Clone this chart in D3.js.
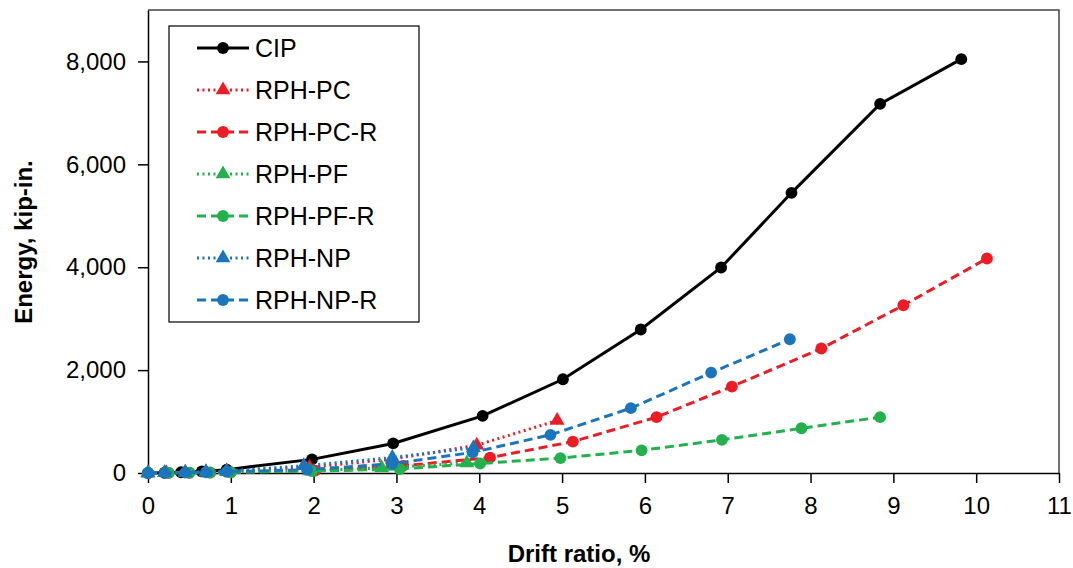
<!DOCTYPE html>
<meta charset="utf-8">
<style>
body { margin: 0; background: #fff; }
text { font-family: "Liberation Sans", Arial, sans-serif; }
.axis text { font-size: 24px; fill: #000; }
.axis path, .axis line { stroke: #000; stroke-width: 1.5px; }
.title { font-size: 24px; font-weight: bold; }
.legend text { font-size: 25px; }
</style>
<svg width="1073" height="568"></svg>
<script src="https://d3js.org/d3.v7.min.js"></script>
<script>
// drift ratio (%) , energy (kip-in.)
var cip      = [[0,0],[0.2,5],[0.4,15],[0.65,30],[0.95,65],[1.98,265],[2.96,575],[4.04,1110],[5.01,1822],[5.95,2790],[6.92,3995],[7.77,5446],[8.84,7175],[9.82,8045]];
var rphPC    = [[0,0],[0.22,5],[0.45,10],[0.7,20],[0.95,40],[1.95,110],[2.95,270],[3.97,540],[4.94,1020]];
var rphPCR   = [[0,0],[0.25,2],[0.5,5],[0.75,10],[1.0,15],[2.02,45],[3.08,140],[4.13,300],[5.13,610],[6.14,1085],[7.05,1680],[8.13,2420],[9.12,3260],[10.13,4170]];
var rphPF    = [[0,0],[0.2,3],[0.45,8],[0.7,15],[0.95,25],[1.95,40],[2.82,100],[3.85,195]];
var rphPFR   = [[0,0],[0.25,2],[0.5,4],[0.75,8],[1.0,12],[1.98,35],[3.04,78],[4.01,185],[4.98,290],[5.96,440],[6.93,645],[7.89,870],[8.84,1085]];
var rphNP    = [[0,0],[0.2,5],[0.45,10],[0.7,20],[0.95,40],[1.88,140],[2.95,300],[3.93,490]];
var rphNPR   = [[0,0],[0.2,3],[0.45,8],[0.7,15],[0.95,25],[1.92,64],[2.95,180],[3.92,400],[4.86,742],[5.83,1260],[6.8,1950],[7.75,2600]];

var names  = ["CIP","RPH-PC","RPH-PC-R","RPH-PF","RPH-PF-R","RPH-NP","RPH-NP-R"];
var xTicks = [0,1,2,3,4,5,6,7,8,9,10,11];
var yTicks = [0,2000,4000,6000,8000];

var red = "#ed1c24", green = "#22b14c", blue = "#1b75bc";
var series = [
  {name: names[0], data: cip,    color: "#000", dash: null,    sym: d3.symbolCircle},
  {name: names[1], data: rphPC,  color: red,    dash: "2,3.5", sym: d3.symbolTriangle},
  {name: names[2], data: rphPCR, color: red,    dash: "9,5",   sym: d3.symbolCircle},
  {name: names[3], data: rphPF,  color: green,  dash: "2,3.5", sym: d3.symbolTriangle},
  {name: names[4], data: rphPFR, color: green,  dash: "9,5",   sym: d3.symbolCircle},
  {name: names[5], data: rphNP,  color: blue,   dash: "2,3.5", sym: d3.symbolTriangle},
  {name: names[6], data: rphNPR, color: blue,   dash: "9,5",   sym: d3.symbolCircle}
];

var svg = d3.select("svg");
var mLeft = 148, mRight = 1059, mTop = 10, mBottom = 473;

var x = d3.scaleLinear().domain([0, 11]).range([mLeft, mRight]);
var y = d3.scaleLinear().domain([0, 9000]).range([mBottom, mTop]);

// frame top / right
svg.append("path")
  .attr("d", "M" + mLeft + "," + mTop + "H" + mRight + "V" + mBottom)
  .attr("fill", "none").attr("stroke", "#444").attr("stroke-width", 1.5);

svg.append("g").attr("class", "axis")
  .attr("transform", "translate(0," + mBottom + ")")
  .call(d3.axisBottom(x).tickValues(xTicks).tickSize(10).tickPadding(14).tickSizeOuter(0));

svg.append("g").attr("class", "axis")
  .attr("transform", "translate(" + mLeft + ",0)")
  .call(d3.axisLeft(y).tickValues(yTicks).tickFormat(d3.format(",")).tickSize(10).tickPadding(12).tickSizeOuter(0));

svg.append("text").attr("class", "title")
  .attr("x", 579).attr("y", 562).attr("text-anchor", "middle")
  .text("Drift ratio, %");

svg.append("text").attr("class", "title")
  .attr("transform", "translate(32,242) rotate(-90)")
  .attr("text-anchor", "middle")
  .text("Energy, kip-in.");

var line = d3.line().x(function(d) { return x(d[0]); }).y(function(d) { return y(d[1]); });

function symSize(s) { return s === d3.symbolTriangle ? 95 : 110; }

series.forEach(function(s) {
  var g = svg.append("g");
  g.append("path").datum(s.data)
    .attr("d", line)
    .attr("fill", "none")
    .attr("stroke", s.color)
    .attr("stroke-width", 3)
    .attr("stroke-dasharray", s.dash);
  g.selectAll("path.pt").data(s.data).enter().append("path")
    .attr("class", "pt")
    .attr("transform", function(d) { return "translate(" + x(d[0]) + "," + y(d[1]) + ")"; })
    .attr("d", d3.symbol().type(s.sym).size(symSize(s.sym)))
    .attr("fill", s.color);
});

// legend
var lg = svg.append("g").attr("class", "legend");
lg.append("rect").attr("x", 169).attr("y", 26).attr("width", 250).attr("height", 296)
  .attr("fill", "#fff").attr("stroke", "#000").attr("stroke-width", 1.2);

series.forEach(function(s, i) {
  var cy = 48 + i * 42;
  lg.append("line").attr("x1", 197).attr("x2", 249).attr("y1", cy).attr("y2", cy)
    .attr("stroke", s.color).attr("stroke-width", 3).attr("stroke-dasharray", s.dash);
  lg.append("path")
    .attr("transform", "translate(223," + cy + ")")
    .attr("d", d3.symbol().type(s.sym).size(symSize(s.sym)))
    .attr("fill", s.color);
  lg.append("text").attr("x", 255).attr("y", cy + 9).text(s.name);
});
</script>
